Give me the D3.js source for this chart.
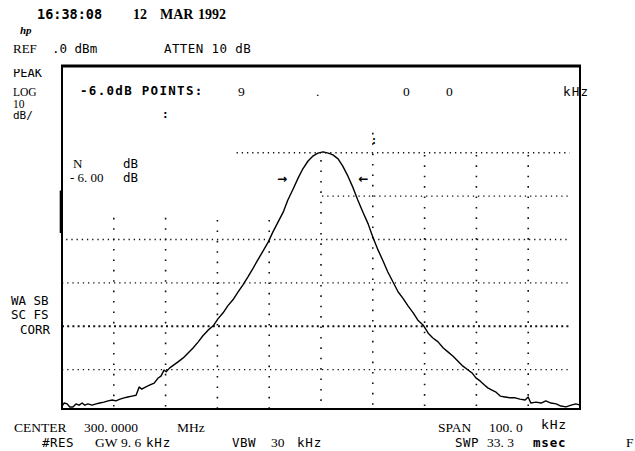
<!DOCTYPE html>
<html><head><meta charset="utf-8">
<script src="https://cdn.jsdelivr.net/npm/d3@7/dist/d3.min.js"></script>
<style>
html,body{margin:0;padding:0;background:#fff;}
svg{display:block;}
.blk{font-family:"DejaVu Sans Mono",monospace;fill:#000;}
.ser{font-family:"Liberation Serif","Times New Roman",serif;fill:#000;}
</style></head>
<body>
<svg id="c" width="635" height="451"></svg>
<script>
// ---- data (frequency offset from 300 MHz centre, kHz ; amplitude, dBm) ----
const traceFreq = [-50,-49.6,-49.0,-48.5,-47.9,-47.3,-46.7,-46.1,-45.6,-45.0,-44.2,-43.4,-42.7,-41.9,-41.1,-40.3,-39.6,-38.8,-38.0,-37.3,-36.5,-35.7,-35.1,-34.6,-33.8,-33.0,-32.2,-31.5,-30.9,-30.3,-29.9,-29.2,-28.4,-27.6,-26.6,-25.7,-24.7,-23.7,-22.8,-21.8,-20.8,-19.9,-18.9,-18.0,-17.0,-16.0,-15.1,-14.1,-13.1,-12.2,-11.2,-10.2,-9.3,-8.3,-7.3,-6.4,-5.4,-4.4,-3.5,-2.5,-1.5,-0.6,0.4,1.4,2.3,3.3,4.2,5.2,6.2,7.1,8.1,9.1,10.0,11.0,12.0,12.9,13.9,14.9,15.8,16.8,17.8,18.7,19.7,20.7,21.6,22.6,23.6,24.5,25.5,26.4,27.4,28.4,29.2,29.9,30.7,31.5,32.2,33.0,33.8,34.6,35.5,36.5,37.5,38.4,39.4,40.0,40.5,41.5,42.5,43.4,44.4,45.4,46.3,47.3,48.3,49.2,50.0];
const traceAmp = [-78.4,-77.7,-77.9,-78.6,-78.6,-77.9,-78.2,-77.7,-78.2,-77.9,-78.2,-77.9,-77.7,-77.5,-77.2,-77.0,-77.2,-76.8,-76.5,-76.3,-76.1,-75.9,-74.0,-74.5,-74.0,-73.5,-73.1,-72.0,-71.5,-70.1,-70.5,-69.6,-68.9,-68.2,-67.3,-66.2,-65.0,-63.6,-62.2,-60.9,-59.9,-58.3,-56.9,-55.3,-53.9,-52.1,-50.5,-48.6,-46.6,-44.7,-42.7,-40.6,-38.3,-36.0,-33.7,-30.9,-28.4,-25.8,-23.7,-21.9,-20.7,-20.1,-19.8,-20.1,-20.5,-21.4,-23.1,-25.4,-28.1,-30.9,-33.7,-36.4,-39.4,-42.4,-45.0,-47.5,-49.8,-52.1,-53.5,-55.3,-56.9,-58.6,-59.7,-61.6,-62.7,-63.6,-65.0,-65.9,-66.9,-68.0,-69.2,-70.1,-70.8,-71.9,-72.6,-73.5,-74.2,-74.7,-75.2,-76.1,-76.3,-76.5,-76.5,-76.8,-77.0,-76.3,-77.7,-77.5,-77.7,-77.2,-77.7,-77.9,-78.4,-78.6,-78.2,-77.9,-78.2];

// graticule (vertical lines in kHz, with top of visible part in dB)
const gridFreqs   = [-40,-30,-20,-10,0,10,20,30,40];
const gridFreqTop = [-35,-35,-35.5,-35.5,-21.7,-15.4,-20.5,-20.5,-20.5];
// horizontal lines in dB, with left start in kHz
const gridLevels     = [-20,-30,-40,-50,-60,-70];
const gridLevelStart = [-16.3,0.2,-49.2,-50,-50,-50];
const gridRightEnd = 48;

// -6 dB marker arrows (kHz, dB)
const markerFreq = [-7.5, 8.2];
const markerAmp  = [-26.1, -26.1];
const markerSym  = ["\u2192","\u2190"];

// ---- scales ----
const x = d3.scaleLinear().domain([-50, 50]).range([62, 580]);
const y = d3.scaleLinear().domain([-80, 0]).range([413, 66]);
const svg = d3.select("#c");

// graticule
const g = svg.append("g").attr("stroke", "#111").attr("fill","none");
gridFreqs.forEach((f, i) => {
  g.append("line").attr("x1", x(f)).attr("x2", x(f))
    .attr("y1", y(gridFreqTop[i])).attr("y2", y(-79.1))
    .attr("stroke-width", 1.6).attr("stroke-dasharray", "1.6,8.8");
});
gridLevels.forEach((l, i) => {
  g.append("line").attr("x1", x(gridLevelStart[i])).attr("x2", x(gridRightEnd))
    .attr("y1", y(l)).attr("y2", y(l))
    .attr("stroke-width", l === -60 ? 1.8 : 1.3)
    .attr("stroke-dasharray", l === -60 ? "2,3.2" : "1.3,3.9");
});

// frame
const fr = svg.append("g").attr("stroke", "#000").attr("fill", "none");
fr.append("line").attr("x1", x(-50)-1).attr("x2", x(50)+1).attr("y1", y(0)).attr("y2", y(0)).attr("stroke-width", 3);
fr.append("line").attr("x1", x(-50)).attr("x2", x(-50)).attr("y1", y(0)).attr("y2", y(-79.1)).attr("stroke-width", 2);
fr.append("line").attr("x1", x(-50)-0.8).attr("x2", x(-50)-0.8).attr("y1", y(-28.7)).attr("y2", y(-38.5)).attr("stroke-width", 3);
fr.append("line").attr("x1", x(50)).attr("x2", x(50)).attr("y1", y(0)).attr("y2", y(-79.1)).attr("stroke-width", 2);
fr.append("line").attr("x1", x(-50)-1).attr("x2", x(50)+1).attr("y1", y(-79.1)).attr("y2", y(-79.1)).attr("stroke-width", 2);

// trace
const pts = d3.zip(traceFreq, traceAmp);
svg.append("path").datum(pts)
  .attr("d", d3.line().x(d => x(d[0])).y(d => y(d[1])))
  .attr("fill", "none").attr("stroke", "#000").attr("stroke-width", 1.4)
  .attr("stroke-linejoin", "round");

// marker arrows
markerFreq.forEach((f, i) => {
  svg.append("text").attr("x", x(f)).attr("y", y(markerAmp[i]) + 4)
    .attr("font-family", "DejaVu Sans").attr("text-anchor","middle")
    .attr("font-size", 12).attr("font-weight","bold").text(markerSym[i]);
});

// ---- annotation text ----
function t(txt, px, py, cls, size, opts = {}) {
  const e = svg.append("text").attr("class", cls).attr("x", px).attr("y", py)
    .attr("font-size", size).text(txt);
  if (opts.bold) e.attr("font-weight", "bold");
  if (opts.italic) e.attr("font-style", "italic");
  if (opts.ls) e.attr("letter-spacing", opts.ls);
  if (opts.clip) e.attr("clip-path", opts.clip);
  return e;
}
t("16:38:08", 37, 19, "blk", 13.5, {bold:true});
t("12", 133, 19, "ser", 14, {bold:true});
t("MAR", 160, 19, "ser", 14, {bold:true});
t("1992", 198, 19, "ser", 14, {bold:true});
t("hp", 20, 34, "ser", 11, {bold:true, italic:true});
t("REF", 13, 53, "ser", 13);
t(".0 dBm", 52, 53, "blk", 12.5);
t("ATTEN 10 dB", 164, 53, "blk", 12.5, {ls: 0.4});

svg.append("clipPath").attr("id","pk").append("rect").attr("x",0).attr("y",69).attr("width",60).attr("height",12);
t("PEAK", 13, 77, "blk", 12, {clip:"url(#pk)"});
t("LOG", 13, 96, "ser", 11.5);
t("10", 13, 107.5, "ser", 11.5);
t("dB/", 13, 119, "blk", 11);

t("-6.0dB POINTS:", 80, 95, "blk", 12.5, {bold:true, ls: 1.3});
t("9", 238, 96, "ser", 13.5);
t(".", 316, 96, "ser", 13.5);
t("0", 403, 96, "ser", 13.5);
t("0", 446, 96, "ser", 13.5);
t("kHz", 563, 96, "blk", 12.5, {ls: 1.2});
t(":", 162, 118, "blk", 11, {bold:true});
t(":", 371, 144, "blk", 10, {bold:true});

t("N", 73, 168, "ser", 13);
t("dB", 123, 168, "blk", 12.5);
t("- 6. 00", 70, 182, "ser", 13);
t("dB", 123, 182, "blk", 12.5);

t("WA SB", 11, 305, "blk", 12.5);
t("SC FS", 11, 319, "blk", 12.5);
t("CORR", 20, 334, "blk", 12.5);

t("CENTER", 14, 432, "ser", 13.5);
t("300. 0000", 84, 432, "ser", 13.5);
t("MHz", 177, 432, "ser", 13.5);
t("SPAN", 438, 432, "ser", 13.5);
t("100. 0", 489, 432, "ser", 13.5);
t("kHz", 541, 429, "blk", 13, {ls: 0.8});
t("#RES", 42, 447, "blk", 12.5, {ls: 0.5});
t("GW", 95, 447, "ser", 13.5);
t("9. 6", 121, 447, "ser", 13.5);
t("kHz", 146, 447, "blk", 12.5, {ls: 0.8});
t("VBW", 232, 447, "blk", 12.5, {ls: 0.5});
t("30", 271, 447, "ser", 13.5);
t("kHz", 297, 447, "blk", 12.5, {ls: 0.8});
t("SWP", 455, 447, "blk", 12.5, {ls: 0.5});
t("33. 3", 487, 447, "ser", 13.5);
t("msec", 533, 447, "blk", 12.5, {bold:true, ls: 0.8});
t("F", 626, 447, "ser", 13.5);
</script>
</body></html>
